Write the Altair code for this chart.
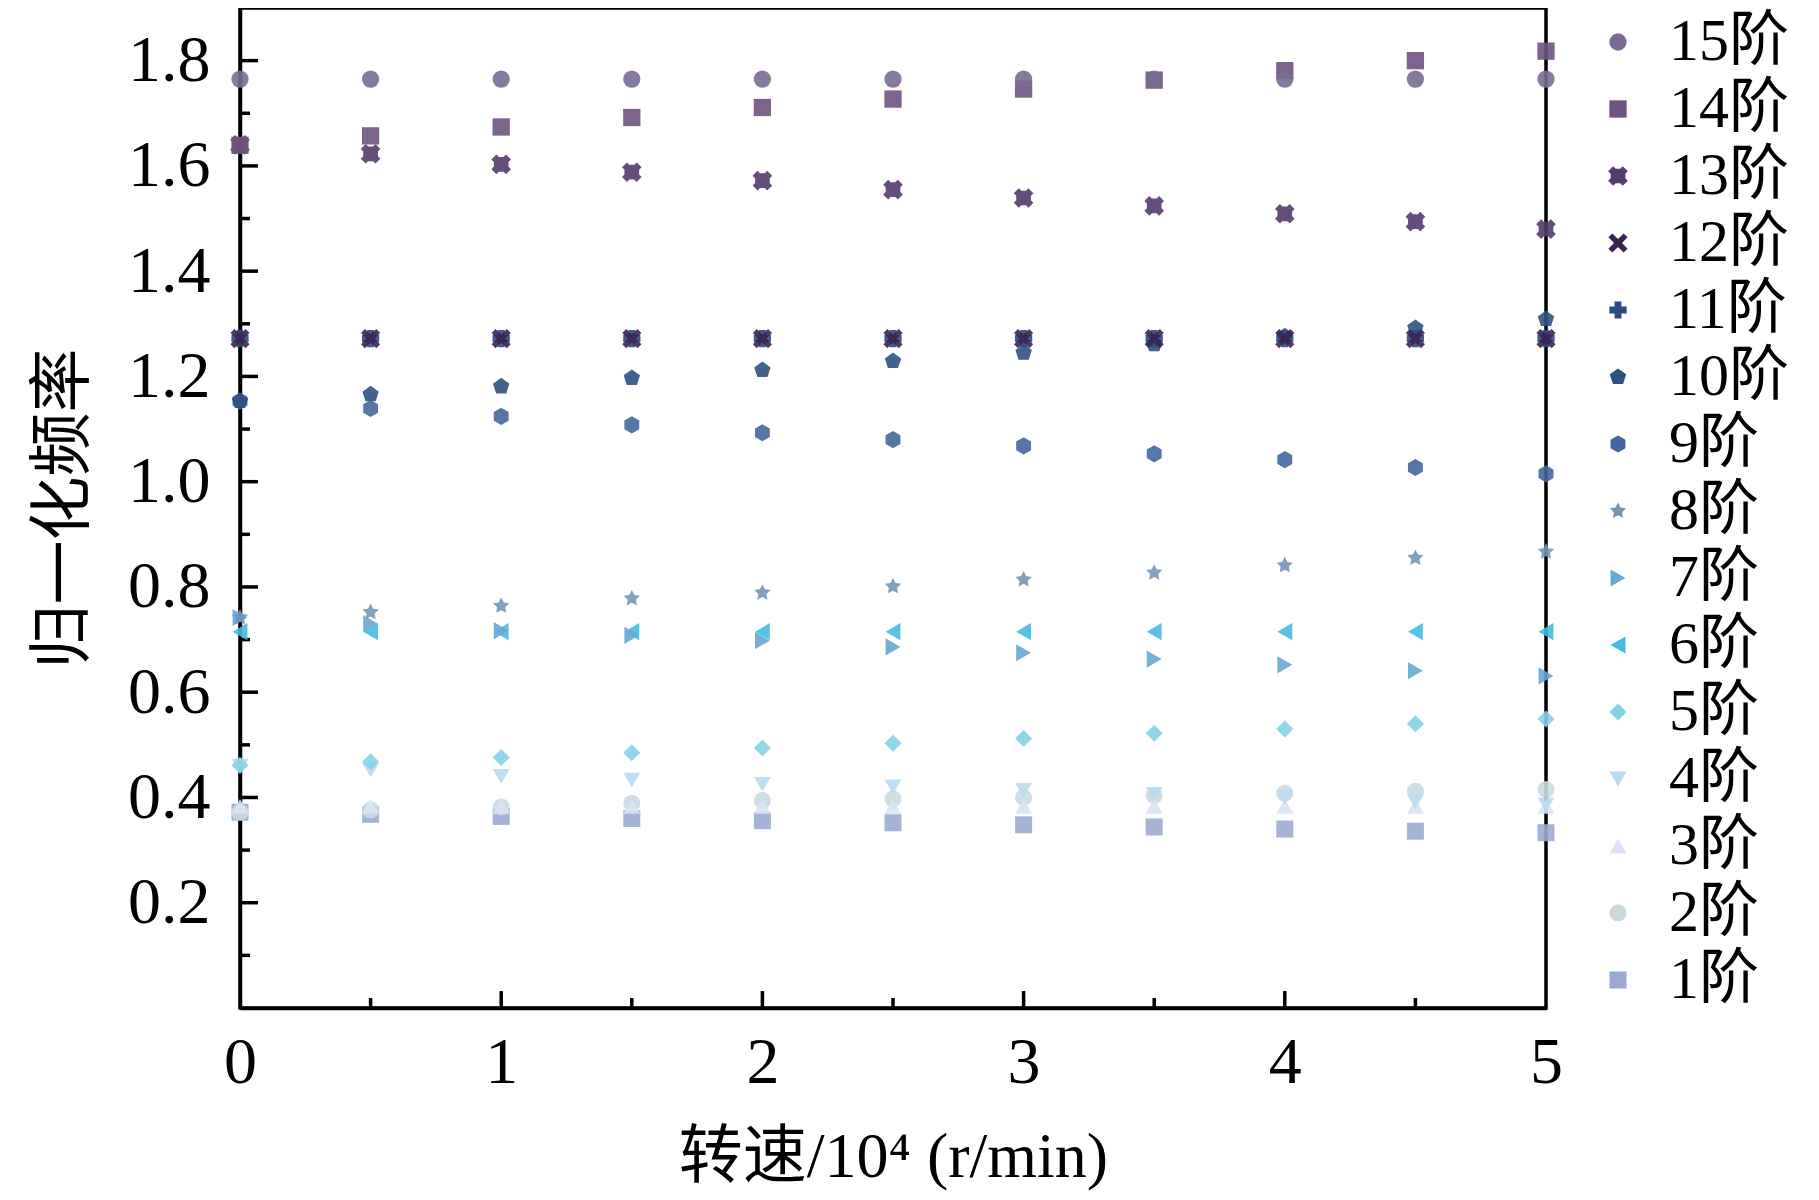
import math
import altair as alt
import pandas as pd

# ---------------- data ----------------
speeds = [0, 0.5, 1, 1.5, 2, 2.5, 3, 3.5, 4, 4.5, 5]

mode_1 = [0.372, 0.368, 0.364, 0.360, 0.356, 0.352, 0.348, 0.344, 0.340, 0.336, 0.333]
mode_2 = [0.372, 0.376, 0.382, 0.389, 0.394, 0.397, 0.400, 0.404, 0.408, 0.412, 0.415]
mode_3 = [0.383, 0.383, 0.383, 0.383, 0.383, 0.383, 0.383, 0.383, 0.383, 0.383, 0.383]
mode_4 = [0.460, 0.452, 0.440, 0.433, 0.425, 0.420, 0.414, 0.406, 0.400, 0.392, 0.386]
mode_5 = [0.461, 0.468, 0.476, 0.485, 0.494, 0.503, 0.512, 0.522, 0.530, 0.540, 0.549]
mode_6 = [0.715, 0.715, 0.715, 0.715, 0.715, 0.715, 0.715, 0.715, 0.715, 0.715, 0.715]
mode_7 = [0.742, 0.730, 0.717, 0.708, 0.698, 0.686, 0.675, 0.663, 0.652, 0.641, 0.631]
mode_8 = [0.742, 0.752, 0.764, 0.778, 0.789, 0.801, 0.814, 0.827, 0.841, 0.855, 0.867]
mode_9 = [1.153, 1.139, 1.124, 1.108, 1.093, 1.080, 1.068, 1.053, 1.042, 1.027, 1.015]
mode_10 = [1.153, 1.166, 1.181, 1.197, 1.212, 1.229, 1.245, 1.261, 1.276, 1.292, 1.309]
mode_11 = [1.272, 1.272, 1.272, 1.272, 1.272, 1.272, 1.272, 1.272, 1.272, 1.272, 1.272]
mode_12 = [1.272, 1.272, 1.272, 1.272, 1.272, 1.272, 1.272, 1.272, 1.272, 1.272, 1.272]
mode_13 = [1.640, 1.623, 1.603, 1.588, 1.572, 1.555, 1.539, 1.524, 1.509, 1.494, 1.480]
mode_14 = [1.639, 1.657, 1.674, 1.692, 1.711, 1.727, 1.746, 1.763, 1.781, 1.800, 1.818]
mode_15 = [1.765, 1.765, 1.765, 1.765, 1.765, 1.765, 1.765, 1.765, 1.765, 1.765, 1.765]

modes = [mode_1, mode_2, mode_3, mode_4, mode_5, mode_6, mode_7, mode_8,
         mode_9, mode_10, mode_11, mode_12, mode_13, mode_14, mode_15]
series_names = [f"{i}阶" for i in range(1, 16)]
legend_order = series_names[::-1]

y_label_values = [0.2, 0.4, 0.6, 0.8, 1.0, 1.2, 1.4, 1.6, 1.8]
y_minor_values = [0.1, 0.3, 0.5, 0.7, 0.9, 1.1, 1.3, 1.5, 1.7]
x_label_values = [0, 1, 2, 3, 4, 5]
x_major_inner = [1, 2, 3, 4]
x_minor_values = [0.5, 1.5, 2.5, 3.5, 4.5]

# colours in legend order (15阶 ... 1阶)
colors = ["#7a6b96", "#6f5380", "#533c6e", "#3a2350", "#2b4a82",
          "#2c5281", "#44679f", "#7496b5", "#68a7d3", "#45bbe0",
          "#84d3e5", "#b9daf0", "#d9e3f4", "#cbd9df", "#9bacd2"]

# ---------------- marker shapes ----------------
def poly(pts):
    return "M" + " L".join(f"{x:.3f},{y:.3f}" for x, y in pts) + " Z"

def plus_pts(t, L=1.0):
    return [(-t, -L), (t, -L), (t, -t), (L, -t), (L, t), (t, t), (t, L), (-t, L),
            (-t, t), (-L, t), (-L, -t), (-t, -t)]

def rot45(pts, s=1.0):
    c = math.sqrt(0.5)
    return [((x - y) * c * s, (x + y) * c * s) for x, y in pts]

pentagon = poly([(math.sin(2 * math.pi * k / 5), -math.cos(2 * math.pi * k / 5)) for k in range(5)])
hexagon = poly([(math.sin(2 * math.pi * k / 6), -math.cos(2 * math.pi * k / 6)) for k in range(6)])
star = poly([((1.0 if k % 2 == 0 else 0.5) * math.sin(math.pi * k / 5),
              -(1.0 if k % 2 == 0 else 0.5) * math.cos(math.pi * k / 5)) for k in range(10)])
xshape = poly(rot45(plus_pts(0.26), 1.25))
asterisk = poly(rot45(plus_pts(0.34), 1.2)) + " " + poly(plus_pts(0.3, 0.85))

shapes = ["circle", "square", asterisk, xshape, "cross", pentagon, hexagon, star,
          "triangle-right", "triangle-left", "diamond", "triangle-down", "triangle-up",
          "circle", "square"]
sizes = [300, 290, 400, 380, 340, 470, 470, 520, 430, 430, 520, 430, 430, 300, 290]

rows = []
for name, vals in zip(series_names, modes):
    for s, v in zip(speeds, vals):
        rows.append({"speed": s, "freq": v, "mode": name})
df = pd.DataFrame(rows)

FONT = "Liberation Serif, Times New Roman, Noto Sans CJK SC"

xscale = alt.Scale(domain=[0, 5], nice=False, zero=False)
yscale = alt.Scale(domain=[0, 1.9], nice=False, zero=False)

x_axis = alt.Axis(values=x_label_values, format="d", labelFontSize=66,
                  labelPadding=74, labelBaseline="alphabetic", labelFlush=False,
                  title="转速/10⁴ (r/min)", titleFontSize=64,
                  titleBaseline="alphabetic", titleY=168, titleX=653)
y_axis = alt.Axis(values=y_label_values, format=".1f", labelFontSize=66,
                  labelPadding=30, labelFlush=False, title="归一化频率", titleFontSize=64,
                  titleBaseline="alphabetic", titleX=-158, titleY=500)

legend = alt.Legend(title=None, orient="none", legendX=1348, legendY=4,
                    symbolSize=180, symbolStrokeWidth=0, symbolOpacity=1,
                    labelFont=FONT, labelFontSize=60, labelColor="black",
                    labelOffset=21, rowPadding=7, padding=0, labelLimit=400)

points = alt.Chart(df).mark_point(filled=True, opacity=0.9, strokeWidth=0).encode(
    x=alt.X("speed:Q", scale=xscale, axis=x_axis),
    y=alt.Y("freq:Q", scale=yscale, axis=y_axis),
    color=alt.Color("mode:N", scale=alt.Scale(domain=legend_order, range=colors), legend=legend),
    shape=alt.Shape("mode:N", scale=alt.Scale(domain=legend_order, range=shapes), legend=legend),
    size=alt.Size("mode:N", scale=alt.Scale(domain=legend_order, range=sizes), legend=None),
)

ytick_major = alt.Chart(pd.DataFrame({"v": y_label_values})).mark_rule(
    color="black", strokeWidth=3.5).encode(
    y=alt.Y("v:Q", scale=yscale, axis=y_axis), x=alt.value(0), x2=alt.value(18))
ytick_minor = alt.Chart(pd.DataFrame({"v": y_minor_values})).mark_rule(
    color="black", strokeWidth=3.5).encode(
    y=alt.Y("v:Q", scale=yscale, axis=y_axis), x=alt.value(0), x2=alt.value(10))
xtick_major = alt.Chart(pd.DataFrame({"v": x_major_inner})).mark_rule(
    color="black", strokeWidth=3.5).encode(
    x=alt.X("v:Q", scale=xscale, axis=x_axis), y=alt.value(1000), y2=alt.value(983))
xtick_minor = alt.Chart(pd.DataFrame({"v": x_minor_values})).mark_rule(
    color="black", strokeWidth=3.5).encode(
    x=alt.X("v:Q", scale=xscale, axis=x_axis), y=alt.value(1000), y2=alt.value(990))

chart = alt.layer(ytick_major, ytick_minor, xtick_major, xtick_minor, points).properties(
    width=1306, height=1000,
    autosize=alt.AutoSizeParams(type="none"),
    padding={"left": 232, "top": 0, "right": 265, "bottom": 184},
    background="white",
).configure_view(
    stroke="black", strokeWidth=3.5
).configure_axis(
    grid=False, ticks=False, tickSize=0, domainColor="black", domainWidth=3.5,
    labelColor="black", titleColor="black", labelFont=FONT, titleFont=FONT,
    titleFontWeight="normal"
)

chart.save("out.html", embed_options={"renderer": "svg", "actions": False})
